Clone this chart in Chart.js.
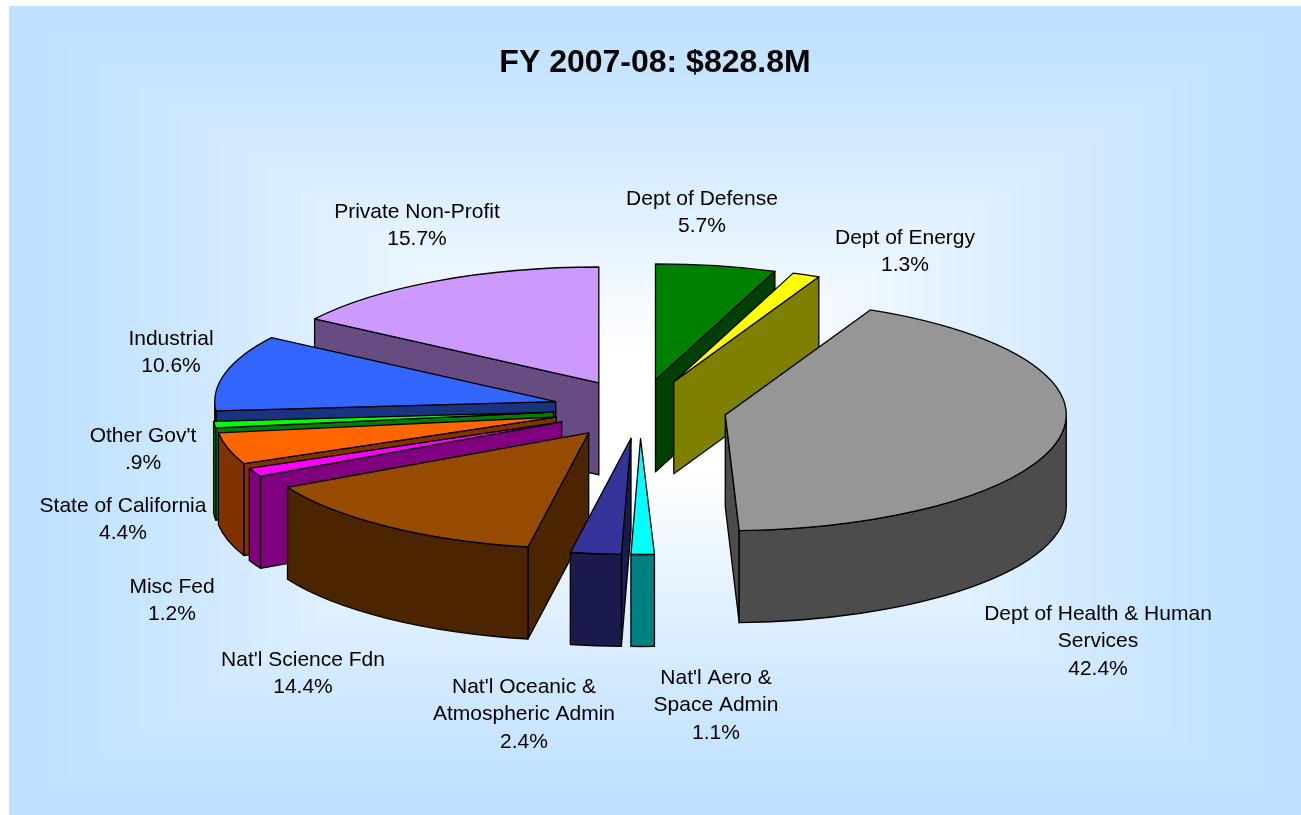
<!DOCTYPE html>
<html>
<head>
<meta charset="utf-8">
<title>FY 2007-08</title>
<script src="https://cdn.jsdelivr.net/npm/chart.js@4"></script>
<style>
  html, body { margin: 0; padding: 0; background: #fff; overflow: hidden; }
  #panel { position: absolute; left: 9px; top: 6px; width: 1292px; height: 809px; }
  canvas { display: block; }
</style>
</head>
<body>
<div id="panel"><canvas id="pie" width="1292" height="809"></canvas></div>
<script>
  // Chart Data

  var categories = [
    ["Dept of Defense"],
    ["Dept of Energy"],
    ["Dept of Health & Human", "Services"],
    ["Nat'l Aero &", "Space Admin"],
    ["Nat'l Oceanic &", "Atmospheric Admin"],
    ["Nat'l Science Fdn"],
    ["Misc Fed"],
    ["State of California"],
    ["Other Gov't"],
    ["Industrial"],
    ["Private Non-Profit"]
  ];
  var percents = [5.7, 1.3, 42.4, 1.1, 2.4, 14.4, 1.2, 4.4, 0.9, 10.6, 15.7];
  var percentLabels = ["5.7%", "1.3%", "42.4%", "1.1%", "2.4%", "14.4%", "1.2%", "4.4%", ".9%", "10.6%", "15.7%"];
  var colors = ["#008000", "#FFFF00", "#969696", "#00FFFF", "#333399", "#964B00", "#FF00FF", "#FF6600", "#00FF00", "#3366FF", "#CC99FF"];
  var wallColors = ["#004000", "#808000", "#4C4C4C", "#008080", "#1A1A4D", "#4B2500", "#800080", "#803300", "#008000", "#1A3380", "#664C80"];

  // Layout (canvas px)

  var pieX = 631, pieY = 403;   // centre of the pie before the slices are pulled out
  var radius = 341;
  var squash = 0.34;            // tilt of the pie
  var depth = 92;               // height of the walls
  var explode = 87;
  var lineHeight = 27.6;
  // centre x and middle y of each label's first line
  var labelX = [693, 896, 1089, 707, 515, 294, 163, 114, 134, 162, 408];
  var labelY = [193, 232, 608, 672, 681, 654, 581, 500, 430, 333, 206];

  // Drawing helpers

  function slicePoint(midAngle, angle, r) {
    return {
      x: pieX + explode * Math.cos(midAngle) + r * Math.cos(angle),
      y: pieY + squash * (explode * Math.sin(midAngle) + r * Math.sin(angle))
    };
  }

  function radialWall(ctx, tip, edge) {
    ctx.beginPath();
    ctx.moveTo(tip.x, tip.y);
    ctx.lineTo(edge.x, edge.y);
    ctx.lineTo(edge.x, edge.y + depth);
    ctx.lineTo(tip.x, tip.y + depth);
    ctx.closePath();
    ctx.fill();
    ctx.stroke();
  }

  function drawSlice(ctx, arc, index) {
    var a0 = arc.startAngle, a1 = arc.endAngle;
    var mid = (a0 + a1) / 2;
    var r = arc.outerRadius;
    var tip = slicePoint(mid, 0, 0);
    var cx = tip.x, cy = tip.y;

    ctx.save();
    ctx.lineWidth = 1.3;
    ctx.strokeStyle = "#000";
    ctx.lineJoin = "round";
    ctx.fillStyle = wallColors[index];

    // only the walls that face the viewer
    if (Math.cos(a0) < 0) radialWall(ctx, tip, slicePoint(mid, a0, r));
    if (Math.cos(a1) > 0) radialWall(ctx, tip, slicePoint(mid, a1, r));

    var lo = Math.max(a0, 0), hi = Math.min(a1, Math.PI);
    if (hi > lo) {
      ctx.beginPath();
      ctx.ellipse(cx, cy, r, r * squash, 0, lo, hi);
      ctx.ellipse(cx, cy + depth, r, r * squash, 0, hi, lo, true);
      ctx.closePath();
      ctx.fill();
      ctx.stroke();
    }

    // top face is the library's own arc, squashed and pulled out
    ctx.save();
    ctx.translate(cx, cy);
    ctx.scale(1, squash);
    ctx.translate(-arc.x, -arc.y);
    arc.draw(ctx);
    ctx.restore();

    ctx.beginPath();
    ctx.moveTo(cx, cy);
    ctx.ellipse(cx, cy, r, r * squash, 0, a0, a1);
    ctx.closePath();
    ctx.stroke();
    ctx.restore();
  }

  var piePlugin = {
    id: "tiltedPie",
    // concentric rectangles, white in the middle and light blue at the edge
    beforeDraw: function(chart) {
      var ctx = chart.ctx;
      var w = chart.width, h = chart.height;
      var steps = 120;
      for (var s = 0; s < steps; s++) {
        var t = s / steps;
        var mix = Math.pow(Math.min(1, t / 0.85), 1.2);
        var red = Math.round(189 + 66 * mix);
        var green = Math.round(224 + 31 * mix);
        ctx.fillStyle = "rgb(" + red + "," + green + ",255)";
        ctx.fillRect(t * w / 2, t * h / 2, w * (1 - t), h * (1 - t));
      }
    },
    beforeDatasetsDraw: function(chart) {
      var ctx = chart.ctx;
      var arcs = chart.getDatasetMeta(0).data;

      // back to front
      var order = arcs.map(function(a, i) { return i; });
      order.sort(function(p, q) {
        return Math.sin((arcs[p].startAngle + arcs[p].endAngle) / 2) - Math.sin((arcs[q].startAngle + arcs[q].endAngle) / 2);
      });
      order.forEach(function(i) { drawSlice(ctx, arcs[i], i); });

      // labels
      ctx.save();
      ctx.font = "21px 'Liberation Sans', Arial, sans-serif";
      ctx.fillStyle = "#000";
      ctx.textAlign = "center";
      ctx.textBaseline = "middle";
      categories.forEach(function(lines, i) {
        var all = lines.concat([percentLabels[i]]);
        all.forEach(function(line, n) {
          ctx.fillText(line, labelX[i], labelY[i] + n * lineHeight);
        });
      });
      ctx.restore();
      return false;
    }
  };

  // Generate Chart

  var pieChart = new Chart(document.getElementById("pie").getContext("2d"), {
    type: "pie",
    data: {
      labels: categories.map(function(c) { return c.join(" "); }),
      datasets: [{
        data: percents,
        backgroundColor: colors,
        borderWidth: 0,
        radius: radius
      }]
    },
    options: {
      responsive: false,
      animation: false,
      events: [],
      plugins: {
        legend: { display: false },
        tooltip: { enabled: false },
        title: {
          display: true,
          text: "FY 2007-08: $828.8M",
          color: "#000",
          font: { family: "'Liberation Sans', Arial, sans-serif", size: 32, weight: "bold" },
          padding: { top: 38, bottom: 20 }
        }
      }
    },
    plugins: [piePlugin]
  });
</script>
</body>
</html>
